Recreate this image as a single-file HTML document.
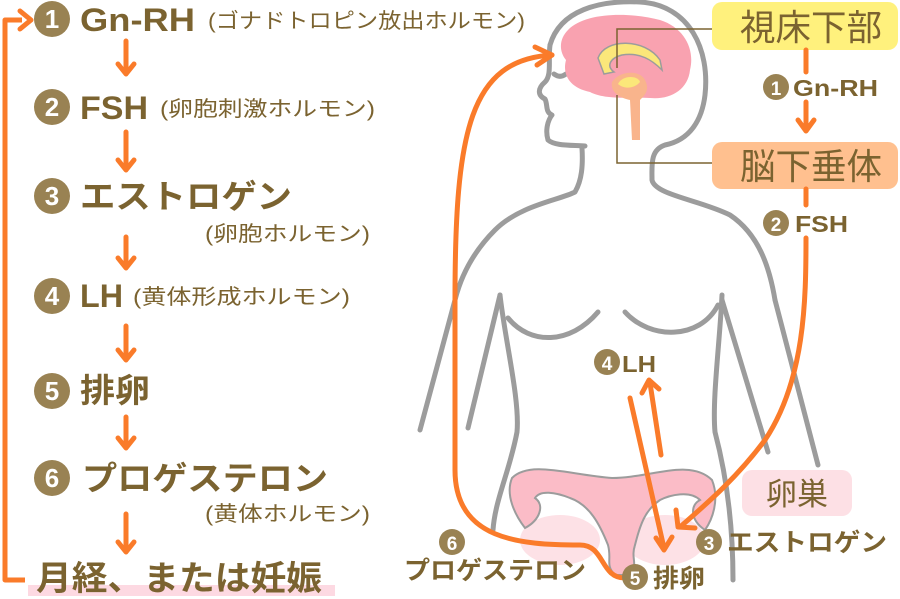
<!DOCTYPE html>
<html><head><meta charset="utf-8"><style>
html,body{margin:0;padding:0;background:#fff;}
svg{display:block;}
text{font-family:"Liberation Sans","Noto Sans CJK JP",sans-serif;fill:#7b6330;}
.b{font-weight:bold;}
.n{fill:#fff;font-weight:bold;}
</style></head><body>
<svg width="900" height="599" viewBox="0 0 900 599" xmlns="http://www.w3.org/2000/svg">
<rect x="28" y="585" width="307" height="11" fill="#fdd9e2"/>
<path d="M25,580 L5,580 L5,20 L22,20" fill="none" stroke="#fa7b2a" stroke-width="5" stroke-linejoin="round"/>
<path d="M20,11 L31,20 L20,29" fill="none" stroke="#fa7b2a" stroke-width="5" stroke-linecap="round" stroke-linejoin="round"/>
<g stroke="#fa7b2a" stroke-width="5" fill="none" stroke-linecap="round" stroke-linejoin="round">
<path d="M126,41 V72 M118,64 L126,74 L134,64"/>
<path d="M126,132 V168 M118,160 L126,170 L134,160"/>
<path d="M126,237 V265 M118,258 L126,268 L134,258"/>
<path d="M126,326 V357 M118,350 L126,360 L134,350"/>
<path d="M126,417 V445 M118,438 L126,448 L134,438"/>
<path d="M126,514 V550 M118,542 L126,552 L134,542"/>
</g>
<g fill="#998253">
<circle cx="52" cy="19" r="18"/><circle cx="52" cy="107" r="18"/><circle cx="52" cy="196" r="18"/>
<circle cx="52" cy="296" r="18"/><circle cx="52" cy="391" r="18"/><circle cx="52" cy="478" r="18"/>
</g>
<g class="n" font-size="26" text-anchor="middle">
<text class="n" x="52" y="28">1</text><text class="n" x="52" y="116">2</text><text class="n" x="52" y="205">3</text>
<text class="n" x="52" y="305">4</text><text class="n" x="52" y="400">5</text><text class="n" x="52" y="487">6</text>
</g>
<text class="b" x="80" y="31" font-size="32" textLength="115" lengthAdjust="spacingAndGlyphs">Gn-RH</text>
<text x="208" y="28" font-size="21" textLength="317" lengthAdjust="spacingAndGlyphs">(ゴナドトロピン放出ホルモン)</text>
<text class="b" x="80" y="119" font-size="32" textLength="68" lengthAdjust="spacingAndGlyphs">FSH</text>
<text x="160" y="116" font-size="21" textLength="215" lengthAdjust="spacingAndGlyphs">(卵胞刺激ホルモン)</text>
<text class="b" x="80" y="208" font-size="33" textLength="212" lengthAdjust="spacingAndGlyphs">エストロゲン</text>
<text x="205" y="241" font-size="21" textLength="165" lengthAdjust="spacingAndGlyphs">(卵胞ホルモン)</text>
<text class="b" x="80" y="307" font-size="32" textLength="43" lengthAdjust="spacingAndGlyphs">LH</text>
<text x="133" y="304" font-size="21" textLength="217" lengthAdjust="spacingAndGlyphs">(黄体形成ホルモン)</text>
<text class="b" x="80" y="402" font-size="33" textLength="70" lengthAdjust="spacingAndGlyphs">排卵</text>
<text class="b" x="82" y="490" font-size="33" textLength="246" lengthAdjust="spacingAndGlyphs">プロゲステロン</text>
<text x="205" y="521" font-size="21" textLength="165" lengthAdjust="spacingAndGlyphs">(黄体ホルモン)</text>
<text class="b" x="36" y="590" font-size="34" textLength="286" lengthAdjust="spacingAndGlyphs">月経、または妊娠</text>

<g fill="none" stroke="#9c9c9c" stroke-width="5" stroke-linecap="round" stroke-linejoin="round">
<path d="M550,45 C560,10 600,0 640,2 C690,5 710,50 705,95 C702,120 690,140 665,145 C650,150 652,165 652,180 C655,195 700,200 730,215 C760,235 770,270 775,300"/>
<path d="M550,45 C548,60 552,75 545,82 C538,88 537,95 545,99 C548,105 545,112 552,115 C548,120 545,130 548,140 C555,146 570,145 585,146"/>
<path d="M554,74 C558,77 562,77 566,74"/>
<path d="M582,148 C583,165 582,180 575,192 C560,200 520,205 495,230 C470,255 460,280 455,300 L420,430"/>
<path d="M500,295 L468,428"/>
<path d="M500,295 C505,340 520,400 517,432 C510,470 495,500 493,530"/>
<path d="M722,295 C720,340 712,400 715,432 C725,470 733,520 733,580"/>
<path d="M775,300 L818,465"/>
<path d="M722,300 L768,452"/>
<path d="M508,318 C530,345 570,345 598,312"/>
<path d="M625,312 C650,340 700,340 718,305"/>
</g>
<path d="M568,30 C585,12 630,12 660,20 C685,28 695,50 690,70 C688,90 670,100 650,98 C630,97 605,100 590,92 C570,88 562,75 566,60 C558,50 560,38 568,30 Z" fill="#f9a2b0"/>
<path d="M598,58 C605,38 645,38 660,60 L662,70 C652,60 640,52 622,55 C610,58 606,66 614,72 L604,74 Z" fill="#fbe77a" stroke="#9c9c9c" stroke-width="1.5"/>
<path d="M612,82 C620,70 640,70 645,80 C650,90 645,95 640,100 L640,140 L632,140 L630,100 C620,98 610,92 612,82 Z" fill="#f9b48c"/>
<path d="M618,84 C622,75 638,75 640,82 C635,88 625,90 618,84 Z" fill="#fbe77a"/>
<path d="M712,29 H617 V68 M712,163 H617 V95" fill="none" stroke="#7b6330" stroke-width="1.5"/>

<ellipse cx="560" cy="540" rx="40" ry="25" fill="#fde1e6"/>
<ellipse cx="665" cy="540" rx="40" ry="25" fill="#fde1e6"/>
<path d="M512,478 C530,460 570,475 612,478 C650,478 690,458 712,480 C720,500 712,520 705,530 C690,520 690,505 700,500 C690,490 670,495 660,500 C645,510 640,525 635,545 C630,560 640,565 628,575 L615,575 C605,565 612,560 608,545 C600,525 590,505 570,498 C555,492 540,490 535,498 C545,505 540,520 525,528 C515,515 505,495 512,478 Z" fill="#fbbcc7" stroke="#9c9c9c" stroke-width="2"/>

<rect x="742" y="470" width="110" height="46" rx="10" fill="#fde0e5"/>
<text x="797" y="505" font-size="31" text-anchor="middle">卵巣</text>

<rect x="712" y="2" width="186" height="48" rx="10" fill="#fff17d"/>
<text x="740" y="40" font-size="36" textLength="142" lengthAdjust="spacingAndGlyphs">視床下部</text>
<rect x="712" y="142" width="186" height="47" rx="10" fill="#ffc08f"/>
<text x="740" y="179" font-size="36" textLength="142" lengthAdjust="spacingAndGlyphs">脳下垂体</text>

<g stroke="#fa7b2a" stroke-width="5" fill="none" stroke-linecap="round" stroke-linejoin="round">
<path d="M806,50 V72 M806,102 V128 M798,120 L806,131 L814,120"/>
<path d="M806,189 V205 M806,238 C806,300 805,380 765,440 C735,480 705,505 680,527"/>
<path d="M676,510 L678,527 L695,528"/>
<path d="M552,55 C470,60 455,130 455,300 L455,470 C455,540 520,545 580,545 C605,545 600,578 625,578"/>
<path d="M535,47 L552,55 L537,65"/>
<path d="M661,455 L650,383 M642,393 L649,380 L659,389"/>
<path d="M630,398 L664,548 M656,538 L664,550 L672,537"/>
</g>
<circle cx="776" cy="87" r="13" fill="#998253"/><text class="n" x="776" y="95" font-size="19" text-anchor="middle">1</text>
<text class="b" x="793" y="96" font-size="23" textLength="85" lengthAdjust="spacingAndGlyphs">Gn-RH</text>
<circle cx="776" cy="223" r="13" fill="#998253"/><text class="n" x="776" y="231" font-size="19" text-anchor="middle">2</text>
<text class="b" x="795" y="232" font-size="23" textLength="53" lengthAdjust="spacingAndGlyphs">FSH</text>
<circle cx="607" cy="362" r="13" fill="#998253"/><text class="n" x="607" y="370" font-size="19" text-anchor="middle">4</text>
<text class="b" x="622" y="372" font-size="23" textLength="34" lengthAdjust="spacingAndGlyphs">LH</text>
<circle cx="709" cy="542" r="13" fill="#998253"/><text class="n" x="709" y="550" font-size="19" text-anchor="middle">3</text>
<text class="b" x="727" y="551" font-size="25" textLength="160" lengthAdjust="spacingAndGlyphs">エストロゲン</text>
<circle cx="635" cy="577" r="13" fill="#998253"/><text class="n" x="635" y="585" font-size="19" text-anchor="middle">5</text>
<text class="b" x="653" y="587" font-size="25" textLength="52" lengthAdjust="spacingAndGlyphs">排卵</text>
<circle cx="452" cy="542" r="13" fill="#998253"/><text class="n" x="452" y="550" font-size="19" text-anchor="middle">6</text>
<text class="b" x="404" y="579" font-size="25" textLength="182" lengthAdjust="spacingAndGlyphs">プロゲステロン</text>
</svg>
</body></html>
